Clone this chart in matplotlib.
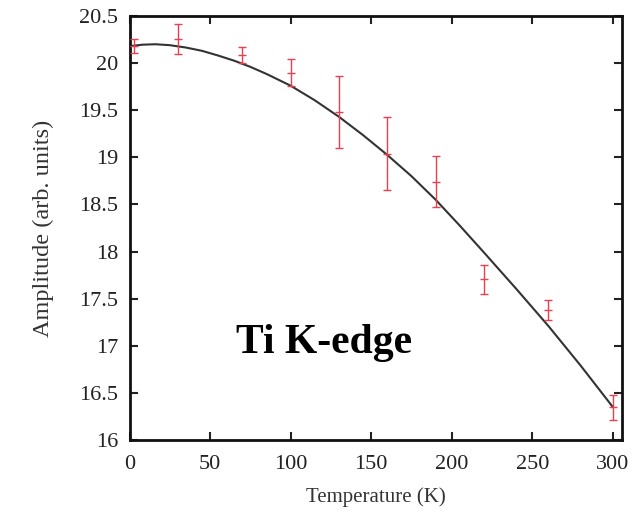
import numpy as np
import matplotlib.pyplot as plt

# 测量点：温度、振幅及误差
temp = [3, 30, 70, 100, 130, 160, 190, 220, 260, 300]
amp = [20.18, 20.26, 20.086, 19.90, 19.484, 19.04, 18.74, 17.705, 17.379, 16.346]
amp_err = [0.075, 0.16, 0.08, 0.145, 0.38, 0.39, 0.27, 0.155, 0.105, 0.13]

# 拟合曲线（读取值）
fit_t = [0, 8, 16, 25, 35, 45, 55, 65, 75, 85, 100, 115, 130, 145, 160, 175,
         190, 205, 220, 240, 260, 280, 300]
fit_a = [20.18, 20.195, 20.20, 20.19, 20.165, 20.13, 20.08, 20.025, 19.96, 19.885,
         19.76, 19.605, 19.43, 19.235, 19.025, 18.80, 18.55, 18.275, 17.99,
         17.605, 17.21, 16.79, 16.35]

xticks = [0, 50, 100, 150, 200, 250, 300]
yticks = [16, 16.5, 17, 17.5, 18, 18.5, 19, 19.5, 20, 20.5]
ytick_labels = ['16', '16.5', '17', '17.5', '18', '18.5', '19', '19.5', '20', '20.5']

plt.rcParams['font.family'] = ['Liberation Serif', 'DejaVu Serif']

fig = plt.figure(figsize=(6.34, 5.15), dpi=100)
ax = fig.add_axes([0.2043, 0.1456, 0.7763, 0.8234])

ax.plot(fit_t, fit_a, c='#333333', lw=1.5, zorder=2)
ax.errorbar(temp, amp, yerr=amp_err, fmt='_', c='#e8404f', ms=6, mew=1.0,
            elinewidth=1.0, capsize=3, capthick=1.0, zorder=3)

ax.text(120.8, 16.92, 'Ti K-edge', fontsize=30, fontweight='bold',
        ha='center', va='baseline')

ax.set_xlim(0, 305.5)
ax.set_ylim(16, 20.5)
ax.set_xticks(xticks)
ax.set_yticks(yticks)
ax.set_yticklabels(ytick_labels)
ax.tick_params(direction='in', length=6, width=1.5, top=True, right=True,
               labelsize=16, pad=8, colors='#222222')
ax.tick_params(axis='x', pad=11)
for s in ax.spines.values():
    s.set_linewidth(2)
    s.set_color('#111111')

ax.set_xlabel('Temperature (K)', fontsize=15, labelpad=9, color='#333333')
ax.set_ylabel('Amplitude (arb. units)', fontsize=17.5, labelpad=18, color='#333333')

fig.savefig('out.png', dpi=100)
